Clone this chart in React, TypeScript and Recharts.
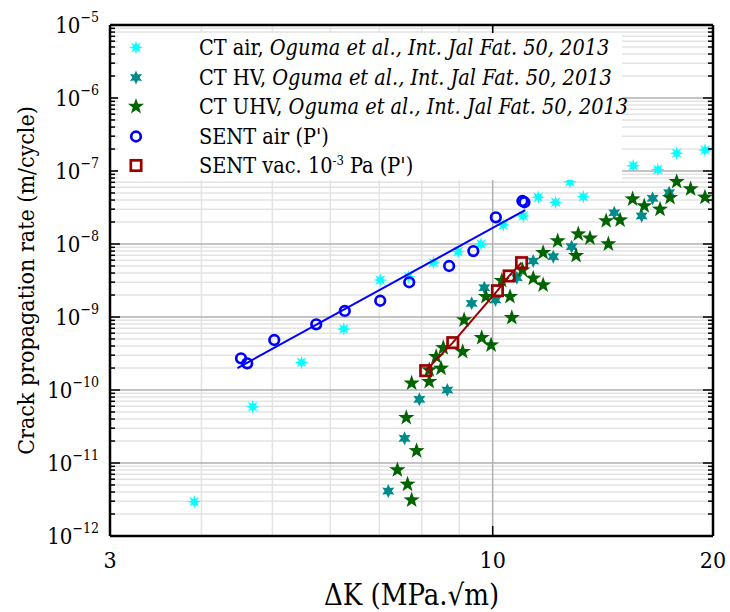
import React from 'react';
import { ScatterChart, Scatter, XAxis, YAxis, CartesianGrid, Legend } from 'recharts';

// CT air, Oguma et al.
const ctAirK = [3.91, 4.7, 5.48, 6.26, 7.02, 7.67, 8.3, 8.97, 9.64, 10.34, 11.01, 11.54, 12.19, 12.75, 13.3, 14.46, 15.56, 16.81, 17.84, 19.5];
const ctAirRate = [2.95e-12, 5.9e-11, 2.39e-10, 6.85e-10, 3.21e-9, 3.56e-9, 5.55e-9, 7.85e-9, 1.0e-8, 1.82e-8, 2.42e-8, 4.36e-8, 3.73e-8, 7.13e-8, 4.45e-8, 9.3e-8, 1.18e-7, 1.05e-7, 1.75e-7, 1.94e-7];

// CT HV
const ctHvK = [7.2, 7.58, 7.94, 8.67, 9.36, 9.74, 10.09, 10.79, 11.36, 12.1, 12.82, 14.66, 15.98, 16.54, 17.42];
const ctHvRate = [4.13e-12, 2.18e-11, 7.46e-11, 1.0e-10, 1.54e-9, 2.52e-9, 1.71e-9, 3.45e-9, 5.85e-9, 6.7e-9, 9.2e-9, 2.68e-8, 2.42e-8, 4.23e-8, 5.04e-8];

// CT UHV
const ctUhvK = [7.41, 7.65, 7.75, 7.87, 7.62, 7.75, 8.19, 8.19, 8.5, 8.37, 8.56, 9.1, 9.66, 9.95, 9.14, 9.79, 10.29, 10.56, 10.62, 10.98, 11.36, 11.72, 11.72, 12.27, 13.0, 13.09, 13.58, 14.39, 14.29, 14.93, 15.53, 16.11, 16.93, 17.47, 17.84, 18.64, 19.5];
const ctUhvRate = [8.02e-12, 5.11e-12, 3.11e-12, 1.47e-11, 4.18e-11, 1.24e-10, 1.3e-10, 1.88e-10, 1.98e-10, 2.86e-10, 3.79e-10, 3.35e-10, 5.2e-10, 4.13e-10, 9.1e-10, 1.9e-9, 3.14e-9, 1.9e-9, 9.8e-10, 4.4e-9, 3.39e-9, 2.74e-9, 7.6e-9, 1.1e-8, 6.92e-9, 1.37e-8, 1.2e-8, 1.0e-8, 2.07e-8, 2.13e-8, 4.13e-8, 3.32e-8, 2.99e-8, 4.31e-8, 7.13e-8, 5.67e-8, 4.36e-8];

// SENT air (P') + power law fit
const sentAirK = [4.53, 4.62, 5.03, 5.74, 6.28, 7.02, 7.69, 8.72, 9.41, 10.1, 10.98, 11.05];
const sentAirRate = [2.72e-10, 2.32e-10, 4.84e-10, 7.94e-10, 1.21e-9, 1.67e-9, 2.99e-9, 5.0e-9, 8.0e-9, 2.32e-8, 3.88e-8, 3.73e-8];
const fitK = [4.48, 11.08];
const fitRate = [2.0e-10, 2.92e-8];

// SENT vac. 1e-3 Pa (P')
const sentVacK = [8.1, 8.82, 10.15, 10.53, 10.95];
const sentVacRate = [1.84e-10, 4.45e-10, 2.29e-9, 3.65e-9, 5.55e-9];

const xTicks = [3, 10, 20];
const xMinor = [4, 5, 6, 7, 8, 9];
const yMajor = [1e-12, 1e-11, 1e-10, 1e-9, 1e-8, 1e-7, 1e-6, 1e-5];
const yMajorLabels = ['−12', '−11', '−10', '−9', '−8', '−7', '−6', '−5'];
const yMinor: number[] = [];
yMajor.slice(0, -1).forEach((d) => {
  for (let m = 2; m <= 9; m++) yMinor.push(m * d);
});
const yAllTicks = [...yMajor, ...yMinor].sort((a, b) => a - b);

const pts = (k: number[], r: number[]) => k.map((v, i) => ({ k: v, rate: r[i] }));

const FONT = "'DejaVu Serif Condensed', 'DejaVu Serif', serif";
const C_AIR = '#00ffff';
const C_HV = '#008b8b';
const C_UHV = '#006400';
const C_BLUE = '#0000ff';
const C_RED = '#990000';

const starPath = (cx: number, cy: number, n: number, R: number, r: number) => {
  let d = '';
  for (let i = 0; i < 2 * n; i++) {
    const rad = i % 2 === 0 ? R : r;
    const a = -Math.PI / 2 + (i * Math.PI) / n;
    d += (i === 0 ? 'M' : 'L') + (cx + rad * Math.cos(a)).toFixed(2) + ',' + (cy + rad * Math.sin(a)).toFixed(2);
  }
  return d + 'Z';
};

const AirMark = ({ cx, cy }: any) => <path d={starPath(cx, cy, 8, 7, 3)} fill={C_AIR} />;
const HvMark = ({ cx, cy }: any) => <path d={starPath(cx, cy, 6, 7, 3.6)} fill={C_HV} />;
const UhvMark = ({ cx, cy }: any) => <path d={starPath(cx, cy, 5, 8.5, 3.4)} fill={C_UHV} />;
const CircleMark = ({ cx, cy }: any) => <circle cx={cx} cy={cy} r={4.8} fill="none" stroke={C_BLUE} strokeWidth={2.7} />;
const SquareMark = ({ cx, cy }: any) => (
  <rect x={cx - 5.2} y={cy - 5.2} width={10.4} height={10.4} fill="none" stroke={C_RED} strokeWidth={2.7} />
);
const NoMark = () => <g />;

const LeftTick = (props: any) => {
  const { x, y, payload } = props;
  const axisX = x + 10;
  const idx = yMajor.indexOf(payload.value);
  const major = idx >= 0;
  return (
    <g>
      <line x1={axisX} x2={axisX + (major ? 10 : 5)} y1={y} y2={y} stroke="#000" strokeWidth={1.5} />
      {major && (
        <text x={x - 1} y={y + 8} textAnchor="end" fontFamily={FONT} fontSize={22} fill="#000">
          <tspan>10</tspan>
          <tspan dy={-11} fontSize={14}>{yMajorLabels[idx]}</tspan>
        </text>
      )}
    </g>
  );
};

const RightTick = (props: any) => {
  const { x, y, payload } = props;
  const axisX = x - 10;
  const major = yMajor.indexOf(payload.value) >= 0;
  return <line x1={axisX - (major ? 10 : 5)} x2={axisX} y1={y} y2={y} stroke="#000" strokeWidth={1.5} />;
};

const BottomTick = (props: any) => {
  const { x, y, payload } = props;
  const axisY = y - 8;
  const inner = payload.value !== xTicks[0] && payload.value !== xTicks[xTicks.length - 1];
  return (
    <g>
      {inner && <line x1={x} x2={x} y1={axisY} y2={axisY - 10} stroke="#000" strokeWidth={1.5} />}
      <text x={x} y={y + 24} textAnchor="middle" fontFamily={FONT} fontSize={23} fill="#000">
        {payload.value}
      </text>
    </g>
  );
};

const TopTick = (props: any) => {
  const { x, y, payload } = props;
  const axisY = y + 8;
  const inner = payload.value !== xTicks[0] && payload.value !== xTicks[xTicks.length - 1];
  return inner ? <line x1={x} x2={x} y1={axisY} y2={axisY + 10} stroke="#000" strokeWidth={1.5} /> : <g />;
};

const legendItems = [
  { mark: AirMark, plain: 'CT air, ', italic: 'Oguma et al., Int. Jal Fat. 50, 2013' },
  { mark: HvMark, plain: 'CT HV, ', italic: 'Oguma et al., Int. Jal Fat. 50, 2013' },
  { mark: UhvMark, plain: 'CT UHV, ', italic: 'Oguma et al., Int. Jal Fat. 50, 2013' },
  { mark: CircleMark, plain: "SENT air (P')", italic: '' },
  { mark: SquareMark, plain: 'vac', italic: '' },
];

const renderLegend = () => (
  <div style={{ fontFamily: FONT, fontSize: 21.5, color: '#000', paddingTop: 0 }}>
    {legendItems.map((it, i) => {
      const Mark = it.mark;
      return (
        <div key={i} style={{ display: 'flex', alignItems: 'center', height: 29.5 }}>
          <svg width={40} height={29} style={{ flex: 'none' }}>
            <Mark cx={18} cy={14.5} />
          </svg>
          <span style={{ marginLeft: 41, whiteSpace: 'nowrap' }}>
            {it.plain === 'vac' ? (
              <>
                SENT vac. 10<sup style={{ fontSize: 13 }}>-3</sup> Pa (P')
              </>
            ) : (
              <>
                {it.plain}
                {it.italic && <i>{it.italic}</i>}
              </>
            )}
          </span>
        </div>
      );
    })}
  </div>
);

export default function App() {
  return (
    <div style={{ position: 'absolute', left: 0, top: 0 }}>
      <ScatterChart width={730} height={612} margin={{ top: 24, right: 16, bottom: 0, left: 0 }} style={{ background: '#fff' }}>
        <CartesianGrid horizontalValues={yMinor} verticalValues={xMinor} stroke="#e3e3e3" strokeWidth={1.5} />
        <CartesianGrid horizontalValues={yMajor} verticalValues={[10]} stroke="#b0b0b0" strokeWidth={1.5} />
        <XAxis
          dataKey="k"
          type="number"
          scale="log"
          domain={[3, 20]}
          ticks={xTicks}
          allowDataOverflow
          height={76}
          tickSize={0}
          tickMargin={8}
          tickLine={false}
          tick={<BottomTick />}
          axisLine={{ stroke: '#000', strokeWidth: 2.5 }}
          label={{ value: 'ΔK (MPa.√m)', position: 'insideBottom', offset: 7, style: { fontFamily: FONT, fontSize: 29, fill: '#000' } }}
        />
        <XAxis
          xAxisId="top"
          orientation="top"
          dataKey="k"
          type="number"
          scale="log"
          domain={[3, 20]}
          ticks={xTicks}
          allowDataOverflow
          height={1}
          tickSize={0}
          tickMargin={8}
          tickLine={false}
          tick={<TopTick />}
          axisLine={{ stroke: '#000', strokeWidth: 2.5 }}
        />
        <YAxis
          dataKey="rate"
          type="number"
          scale="log"
          domain={[1e-12, 1e-5]}
          ticks={yAllTicks}
          interval={0}
          allowDataOverflow
          width={110}
          tickSize={0}
          tickMargin={10}
          tickLine={false}
          tick={<LeftTick />}
          axisLine={{ stroke: '#000', strokeWidth: 2.5 }}
          label={{
            value: 'Crack propagation rate (m/cycle)',
            angle: -90,
            position: 'insideLeft',
            offset: 26,
            style: { textAnchor: 'middle', fontFamily: FONT, fontSize: 23, fill: '#000' },
          }}
        />
        <YAxis
          yAxisId="right"
          orientation="right"
          dataKey="rate"
          type="number"
          scale="log"
          domain={[1e-12, 1e-5]}
          ticks={yAllTicks}
          interval={0}
          allowDataOverflow
          width={1}
          tickSize={0}
          tickMargin={10}
          tickLine={false}
          tick={<RightTick />}
          axisLine={{ stroke: '#000', strokeWidth: 2.5 }}
        />
        <Legend
          layout="vertical"
          align="center"
          verticalAlign="middle"
          content={renderLegend}
          wrapperStyle={{ left: 118, top: 33, width: 504, height: 147, background: '#fff' }}
        />
        <Scatter name="CT air" data={pts(ctAirK, ctAirRate)} shape={AirMark} isAnimationActive={false} />
        <Scatter name="CT HV" data={pts(ctHvK, ctHvRate)} shape={HvMark} isAnimationActive={false} />
        <Scatter name="CT UHV" data={pts(ctUhvK, ctUhvRate)} shape={UhvMark} isAnimationActive={false} />
        <Scatter
          name="fit"
          data={pts(fitK, fitRate)}
          shape={NoMark}
          line={{ stroke: C_BLUE, strokeWidth: 2 }}
          isAnimationActive={false}
        />
        <Scatter name="SENT air" data={pts(sentAirK, sentAirRate)} shape={CircleMark} isAnimationActive={false} />
        <Scatter
          name="SENT vac"
          data={pts(sentVacK, sentVacRate)}
          shape={SquareMark}
          line={{ stroke: C_RED, strokeWidth: 2 }}
          isAnimationActive={false}
        />
      </ScatterChart>
    </div>
  );
}
